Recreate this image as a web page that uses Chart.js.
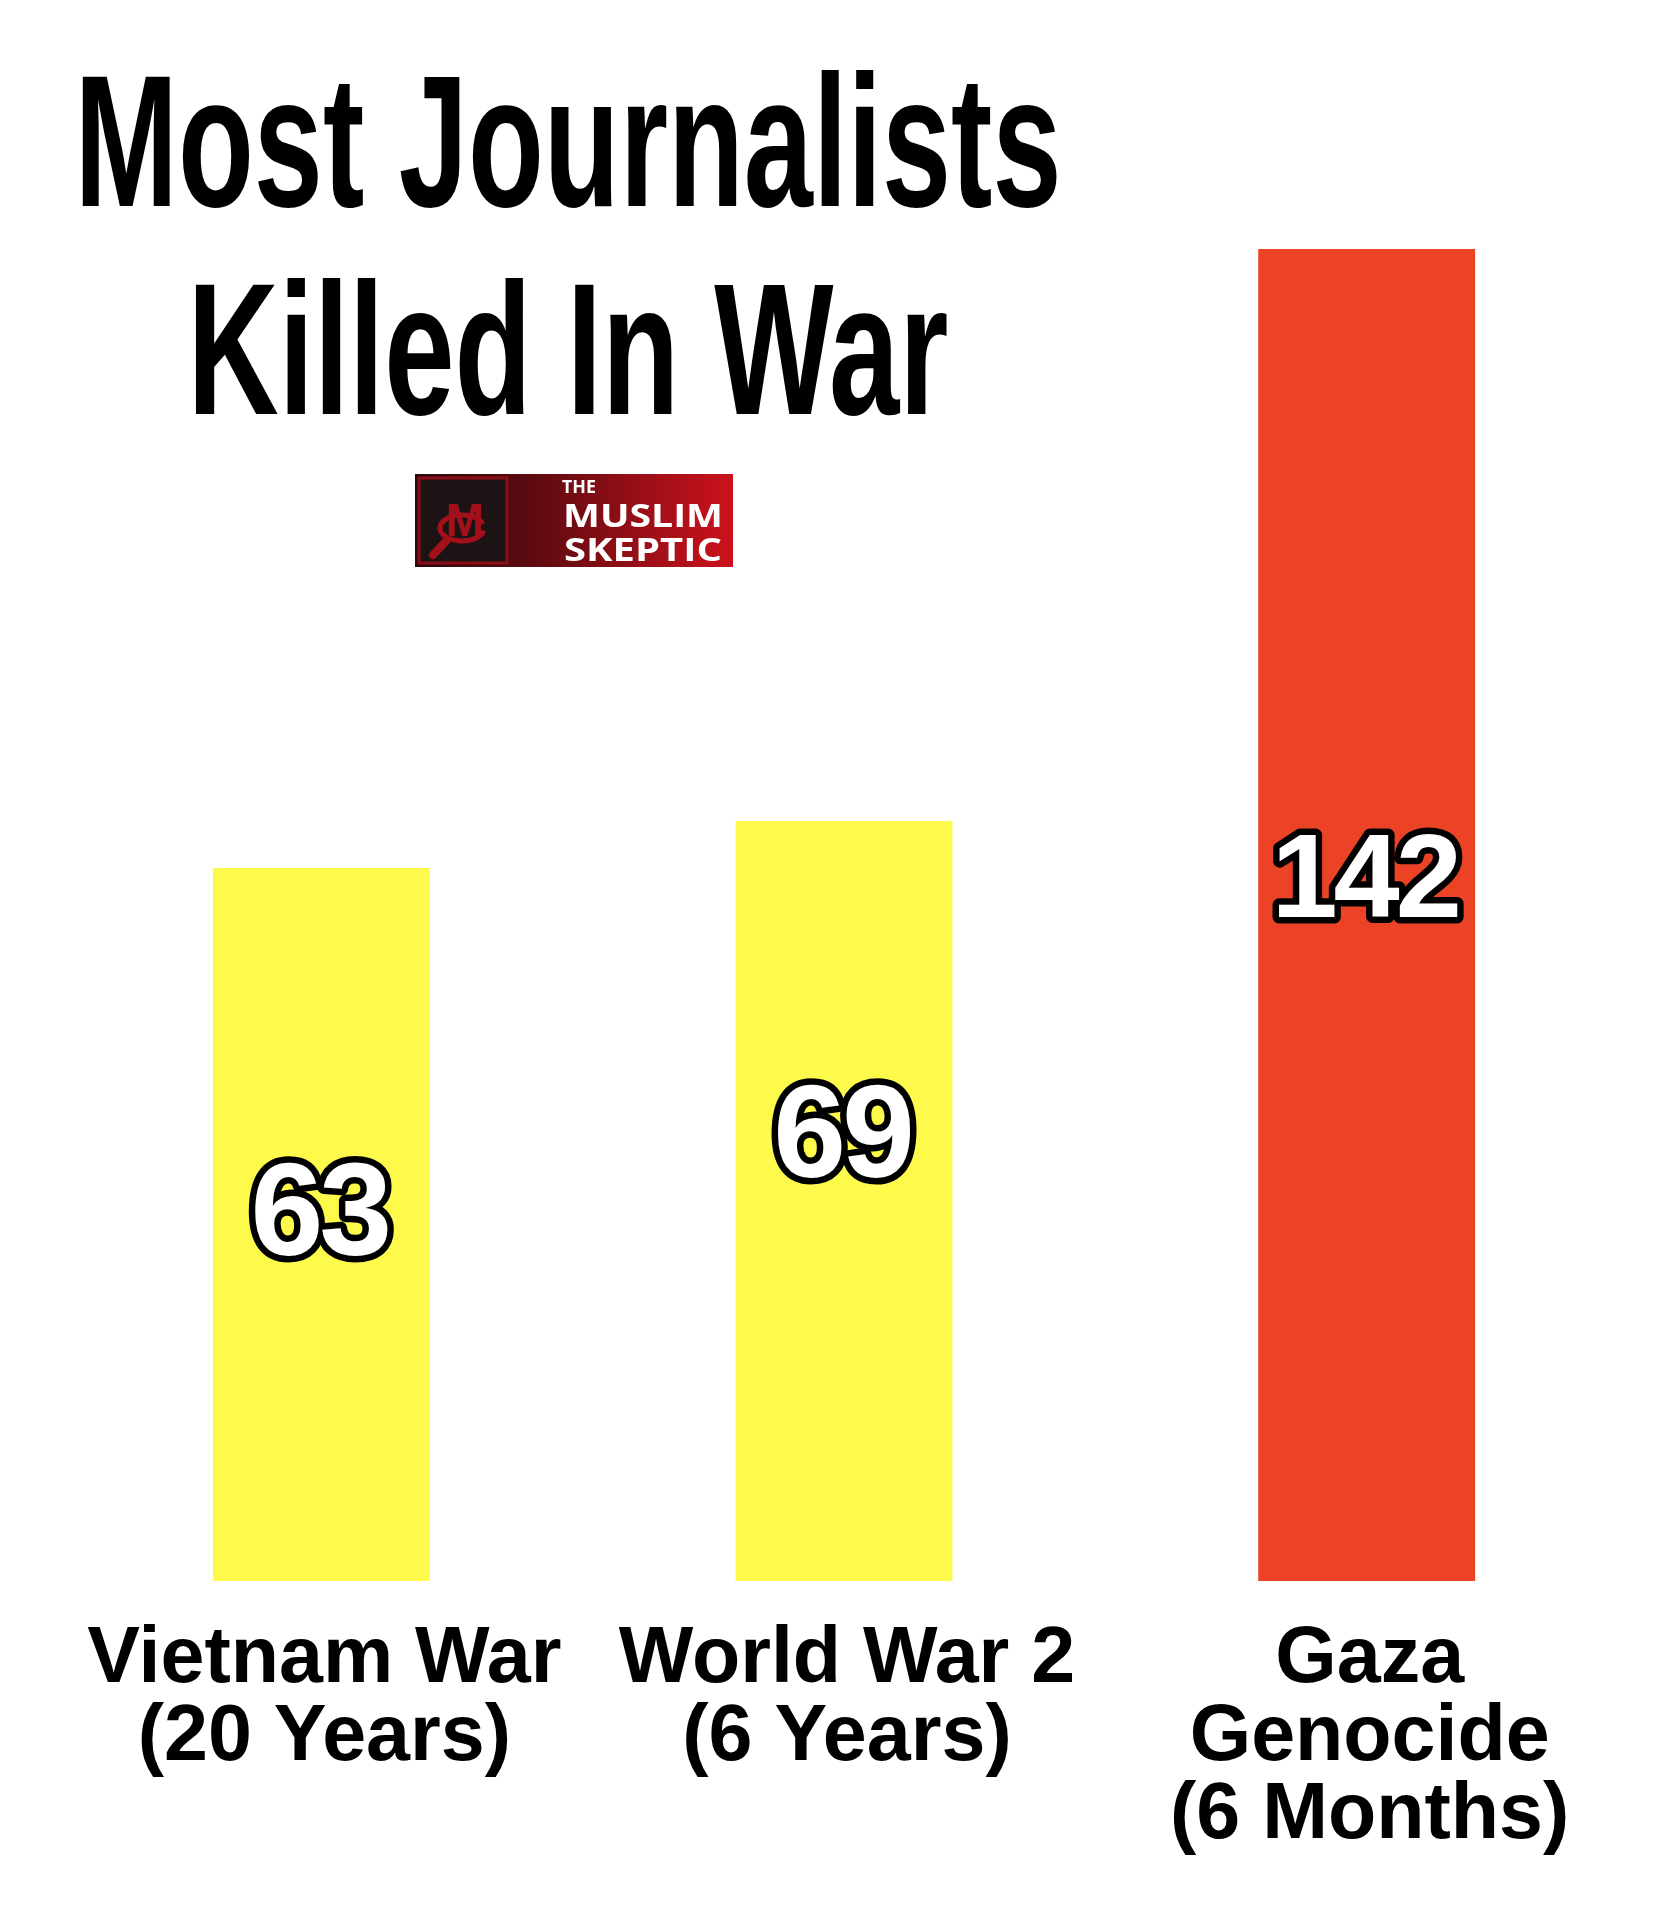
<!DOCTYPE html>
<html>
<head>
<meta charset="utf-8">
<script src="https://cdn.jsdelivr.net/npm/chart.js@4.4.1/dist/chart.umd.min.js"></script>
<style>
  html, body { margin: 0; padding: 0; background: #ffffff; }
  #wrap { width: 1677px; height: 1920px; }
</style>
</head>
<body>
<div id="wrap"><canvas id="warChart" width="1677" height="1920"></canvas></div>
<script>
const categories = [
    ['Vietnam War', '(20 Years)'],
    ['World War 2', '(6 Years)'],
    ['Gaza', 'Genocide', '(6 Months)']
];
const journalistsKilled = [63, 69, 142];
const titleLines = ['Most Journalists', 'Killed In War'];
const logoLines = ['THE', 'MUSLIM', 'SKEPTIC'];

// text squeezed/stretched horizontally to a given width
function drawFitted(ctx, text, cx, y, width) {
    const w = ctx.measureText(text).width;
    ctx.save();
    ctx.translate(cx, y);
    ctx.scale(width / w, 1);
    ctx.textAlign = 'center';
    ctx.fillText(text, 0, 0);
    ctx.restore();
}

const headerPlugin = {
    id: 'header',
    beforeDraw(chart) {
        const ctx = chart.ctx;
        ctx.save();
        ctx.fillStyle = '#ffffff';
        ctx.fillRect(0, 0, chart.width, chart.height);

        // title, condensed
        ctx.fillStyle = '#000000';
        ctx.textBaseline = 'alphabetic';
        ctx.font = 'bold 187px "Liberation Sans", Arial, sans-serif';
        drawFitted(ctx, titleLines[0], 568, 206, 987);
        drawFitted(ctx, titleLines[1], 568, 414, 761);

        // logo badge
        const lx = 415, ly = 474, lw = 318, lh = 93;
        const grad = ctx.createLinearGradient(lx, 0, lx + lw, 0);
        grad.addColorStop(0, '#2a0a0d');
        grad.addColorStop(0.35, '#5a0a10');
        grad.addColorStop(1, '#cc121c');
        ctx.fillStyle = grad;
        ctx.fillRect(lx, ly, lw, lh);

        ctx.fillStyle = '#1d1315';
        ctx.fillRect(lx + 3, ly + 3, 90, lh - 6);
        ctx.strokeStyle = '#8c0d16';
        ctx.lineWidth = 3;
        ctx.strokeRect(lx + 4, ly + 4, 88, lh - 8);

        // icon: M with a magnifier
        ctx.strokeStyle = '#a3101a';
        ctx.fillStyle = '#a3101a';
        ctx.lineWidth = 5;
        ctx.beginPath();
        ctx.ellipse(lx + 47, ly + 54, 22, 13, 0, 0.2, Math.PI * 1.9);
        ctx.stroke();
        ctx.lineWidth = 8;
        ctx.lineCap = 'round';
        ctx.beginPath();
        ctx.moveTo(lx + 32, ly + 66);
        ctx.lineTo(lx + 18, ly + 81);
        ctx.stroke();
        ctx.font = 'bold 46px "Liberation Sans", sans-serif';
        ctx.textAlign = 'center';
        ctx.fillText('M', lx + 50, ly + 62);

        ctx.fillStyle = '#ffffff';
        ctx.font = '700 18px "Open Sans", sans-serif';
        drawFitted(ctx, logoLines[0], 579, 493, 34);
        ctx.font = '700 33px "Open Sans", sans-serif';
        drawFitted(ctx, logoLines[1], 643, 527, 160);
        drawFitted(ctx, logoLines[2], 643, 561, 158);
        ctx.restore();
    }
};

const valueLabelPlugin = {
    id: 'valueLabels',
    afterDatasetsDraw(chart, args, opts) {
        const ctx = chart.ctx;
        const meta = chart.getDatasetMeta(0);
        meta.data.forEach((bar, i) => {
            const y = bar.y + (bar.base - bar.y) * opts.at[i];
            ctx.save();
            ctx.font = 'bold ' + opts.sizes[i] + 'px "Liberation Sans", Arial, sans-serif';
            ctx.letterSpacing = '-4px';
            ctx.textAlign = 'center';
            ctx.textBaseline = 'middle';
            ctx.lineJoin = 'round';
            ctx.lineWidth = 13;
            ctx.strokeStyle = '#000000';
            const txt = String(chart.data.datasets[0].data[i]);
            ctx.strokeText(txt, bar.x - 2, y + 4);
            ctx.fillStyle = '#ffffff';
            ctx.fillText(txt, bar.x - 2, y + 4);
            ctx.restore();
        });
    }
};

new Chart(document.getElementById('warChart').getContext('2d'), {
    type: 'bar',
    data: {
        labels: categories,
        datasets: [{
            data: journalistsKilled,
            base: -28,
            backgroundColor: ['#fdfa4c', '#fdfa4c', '#ec4327'],
            borderWidth: 0,
            barPercentage: 0.83,
            categoryPercentage: 0.5
        }]
    },
    options: {
        responsive: false,
        animation: false,
        devicePixelRatio: 1,
        layout: { padding: { top: 249, left: 60, right: 49, bottom: 0 } },
        plugins: {
            legend: { display: false },
            tooltip: { enabled: false },
            title: { display: false },
            valueLabels: { at: [0.486, 0.415, 0.474], sizes: [131, 131, 119] }
        },
        scales: {
            x: {
                grid: { display: false, drawTicks: false },
                border: { display: false },
                afterFit: scale => { scale.height = 339; },
                ticks: {
                    color: '#000000',
                    padding: 40,
                    labelOffset: 3,
                    maxRotation: 0,
                    font: { family: '"Liberation Sans", Arial, sans-serif', size: 79, weight: 'bold', lineHeight: 0.99 }
                }
            },
            y: {
                display: false,
                min: -28,
                max: 142
            }
        }
    },
    plugins: [headerPlugin, valueLabelPlugin]
});
</script>
</body>
</html>
